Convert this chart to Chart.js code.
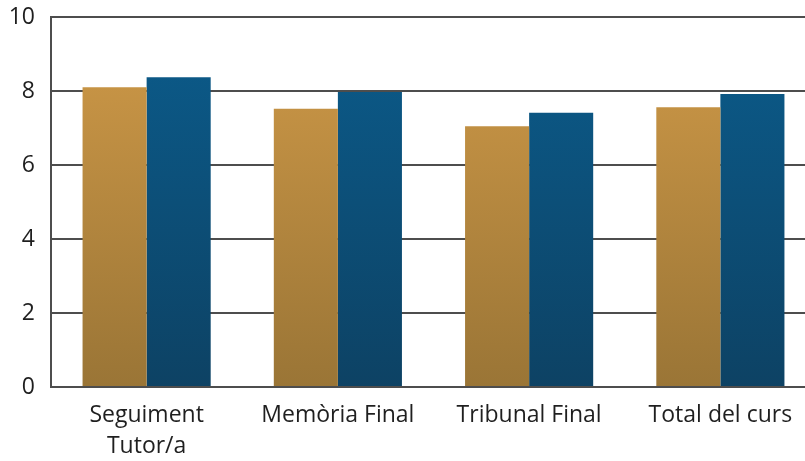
<!DOCTYPE html>
<html>
<head>
<meta charset="utf-8">
<script src="https://cdn.jsdelivr.net/npm/chart.js@4"></script>
<style>
  html, body { margin: 0; padding: 0; background: #fff; overflow: hidden; }
  #wrap { width: 816px; height: 461px; }
</style>
</head>
<body>
<div id="wrap"><canvas id="notesChart" width="816" height="461"></canvas></div>
<script>
// categories (eix x)
const categories = [['Seguiment', 'Tutor/a'], 'Memòria Final', 'Tribunal Final', 'Total del curs'];

// dues sèries (daurada i blava)
const serieA = [8.10, 7.52, 7.05, 7.56];
const serieB = [8.37, 7.97, 7.41, 7.92];

// eix y
const yTicks = [0, 2, 4, 6, 8, 10];

// degradat vertical per a cada barra
function gradient(ctx, top, bottom) {
    const chart = ctx.chart;
    const area = chart.chartArea;
    if (!area) return top;
    const g = chart.ctx.createLinearGradient(0, area.top, 0, area.bottom);
    g.addColorStop(0, top);
    g.addColorStop(1, bottom);
    return g;
}

const ctx = document.getElementById('notesChart').getContext('2d');

new Chart(ctx, {
    type: 'bar',
    data: {
        labels: categories,
        datasets: [
            {
                label: 'A',
                data: serieA,
                backgroundColor: c => gradient(c, '#D09A48', '#9A7536'),
                borderWidth: 0,
                barPercentage: 1,
                categoryPercentage: 0.67
            },
            {
                label: 'B',
                data: serieB,
                backgroundColor: c => gradient(c, '#0B5C8C', '#0D4264'),
                borderWidth: 0,
                barPercentage: 1,
                categoryPercentage: 0.67
            }
        ]
    },
    options: {
        responsive: false,
        animation: false,
        layout: { padding: { top: 17, right: 0, left: 0, bottom: 0 } },
        plugins: {
            legend: { display: false },
            tooltip: { enabled: false }
        },
        scales: {
            x: {
                grid: { display: false, drawTicks: false },
                border: { display: true, color: '#4d4d4d', width: 2 },
                ticks: {
                    color: '#1f1f1f',
                    font: { family: 'Open Sans', size: 23, lineHeight: 1.35 },
                    padding: 13,
                    maxRotation: 0,
                    autoSkip: false
                },
                afterFit: s => { s.height = 74; }
            },
            y: {
                min: 0,
                max: 10,
                afterBuildTicks: s => { s.ticks = yTicks.map(v => ({ value: v })); },
                // marques invisibles per separar les etiquetes de l'eix
                grid: { color: '#4d4d4d', lineWidth: 2, drawTicks: true, tickLength: 15, tickColor: 'rgba(0,0,0,0)' },
                border: { display: true, color: '#4d4d4d', width: 2 },
                ticks: {
                    color: '#1f1f1f',
                    font: { family: 'Open Sans', size: 23 },
                    padding: 1
                },
                afterFit: s => { s.width = 51; }
            }
        }
    }
});
</script>
</body>
</html>
